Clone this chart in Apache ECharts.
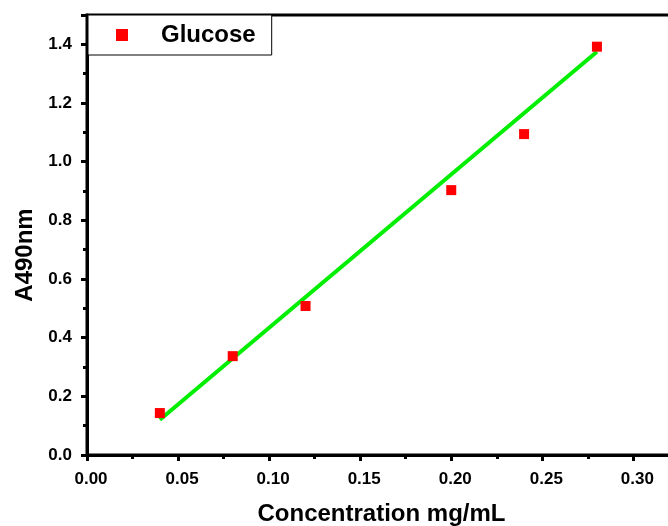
<!DOCTYPE html>
<html><head><meta charset="utf-8">
<script src="https://cdn.jsdelivr.net/npm/echarts@6/dist/echarts.min.js"></script>
<style>html,body{margin:0;padding:0;background:#fff}#c{width:668px;height:526px}</style>
</head><body><div id="c"></div>
<script>
var concentration = [0.04, 0.08, 0.12, 0.20, 0.24, 0.28];
var absorbance = [0.143, 0.337, 0.508, 0.903, 1.094, 1.392];
var fitX = [0.04, 0.28];
var fitY = [0.12, 1.375];
var seriesName = 'Glucose';

var font = 'Liberation Sans, Arial, sans-serif';
var chart = echarts.init(document.getElementById('c'), null, {renderer: 'canvas'});
var axisCommon = {
  axisLine: {show: true, lineStyle: {color: '#000', width: 3}},
  axisTick: {show: true, inside: false, length: 6, lineStyle: {color: '#000', width: 3}},
  minorTick: {show: true, splitNumber: 2, length: 4, lineStyle: {color: '#000', width: 3}},
  splitLine: {show: false},
  axisLabel: {color: '#000', fontFamily: font, fontWeight: 'bold', fontSize: 17, margin: 13},
  nameTextStyle: {color: '#000', fontFamily: font, fontWeight: 'bold', fontSize: 24}
};
chart.setOption({
  animation: false,
  backgroundColor: '#fff',
  grid: {left: 87, top: 15, width: 601, height: 440, outerBoundsMode: 'none', containLabel: false,
    show: true, borderColor: '#000', borderWidth: 3, backgroundColor: 'transparent'},
  legend: {
    show: true, left: 88, top: 15, orient: 'horizontal',
    data: [{name: seriesName, icon: 'rect'}],
    itemWidth: 12, itemHeight: 12,
    padding: [8, 16, 8, 28],
    backgroundColor: '#fff', borderColor: '#000', borderWidth: 1,
    textStyle: {color: '#000', fontFamily: font, fontWeight: 'bold', fontSize: 24, padding: [0, 0, 0, 28]}
  },
  xAxis: Object.assign({}, axisCommon, {
    type: 'value', min: 0, max: 0.33, interval: 0.05,
    name: 'Concentration mg/mL', nameLocation: 'middle', nameGap: 47,
    nameTextStyle: Object.assign({}, axisCommon.nameTextStyle, {padding: [0, 12, 0, 0]}),
    axisLabel: Object.assign({}, axisCommon.axisLabel, {
      margin: 16, padding: [0, 0, 0, 8],
      formatter: function (v) { return v > 0.31 ? '' : v.toFixed(2); }
    })
  }),
  yAxis: Object.assign({}, axisCommon, {
    type: 'value', min: 0, max: 1.5, interval: 0.2,
    name: 'A490nm', nameLocation: 'middle', nameGap: 50,
    nameTextStyle: Object.assign({}, axisCommon.nameTextStyle, {padding: [0, 40, 0, 0]}),
    axisLabel: Object.assign({}, axisCommon.axisLabel, {
      margin: 15,
      formatter: function (v) { return v > 1.45 ? '' : v.toFixed(1); }
    })
  }),
  series: [
    {
      name: seriesName, type: 'scatter', symbol: 'rect', symbolSize: 10,
      itemStyle: {color: '#ff0000', opacity: 1},
      data: concentration.map(function (x, i) { return [x, absorbance[i]]; }),
      z: 3
    },
    {
      name: 'fit', type: 'line', showSymbol: false, symbol: 'none',
      lineStyle: {color: '#00ee00', width: 4},
      data: fitX.map(function (x, i) { return [x, fitY[i]]; }),
      z: 2
    }
  ]
});
</script></body></html>
